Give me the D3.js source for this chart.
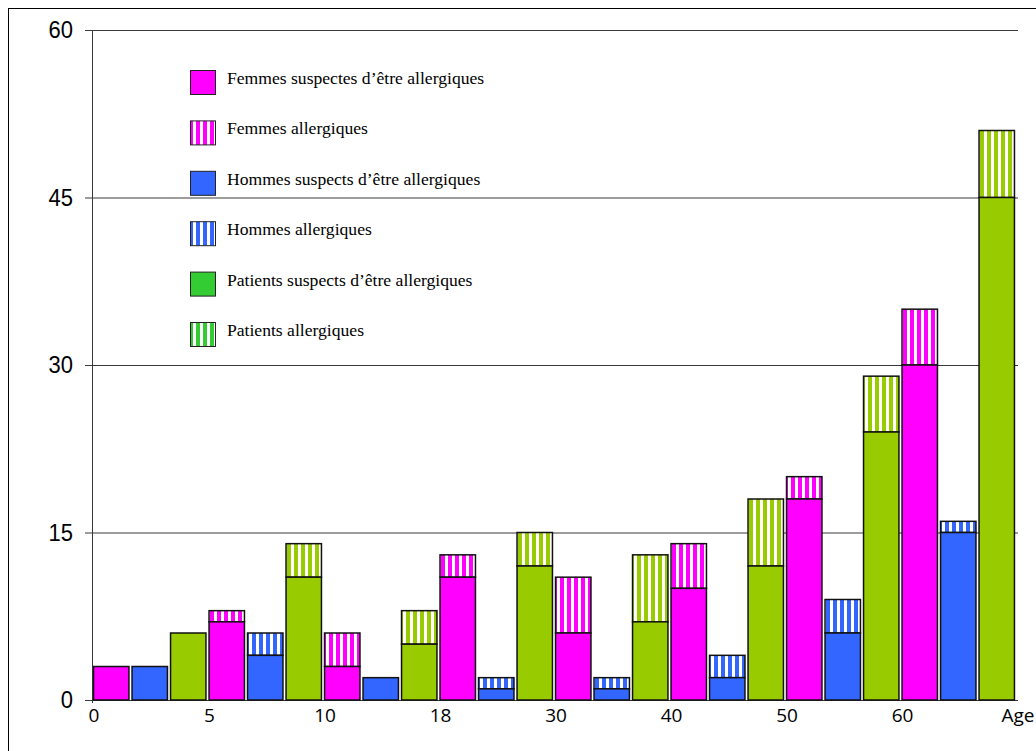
<!DOCTYPE html>
<html>
<head>
<meta charset="utf-8">
<script src="https://cdn.jsdelivr.net/npm/d3@7"></script>
<style>
  html, body { margin: 0; padding: 0; background: #fff; }
  svg { display: block; }
</style>
</head>
<body>
<svg id="chart" width="1036" height="751"></svg>
<script>
// ---- data ----
const ageGroups = ["0-5", "5-10", "10-18", "18-30", "30-40", "40-50", "50-60", "60+"];
const xTickLabels = ["0", "5", "10", "18", "30", "40", "50", "60", "Age"];
const yTicks = [0, 15, 30, 45, 60];
const seriesKeys = ["femmes", "hommes", "patients"];

const femmesSuspectes   = [3, 7, 3, 11, 6, 10, 18, 30];
const femmesAllergiques = [0, 1, 3, 2, 5, 4, 2, 5];
const hommesSuspects    = [3, 4, 2, 1, 1, 2, 6, 15];
const hommesAllergiques = [0, 2, 0, 1, 1, 2, 3, 1];
const patientsSuspects    = [6, 11, 5, 12, 7, 12, 24, 45];
const patientsAllergiques = [0, 3, 3, 3, 6, 6, 5, 6];

const legendLabels = [
  "Femmes suspectes d\u2019être allergiques",
  "Femmes allergiques",
  "Hommes suspects d\u2019être allergiques",
  "Hommes allergiques",
  "Patients suspects d\u2019être allergiques",
  "Patients allergiques"
];

// ---- styles ----
const barColors = { femmes: "#FF00FF", hommes: "#3366FF", patients: "#99CC00" };
const legendColors = ["#FF00FF", "#FF00FF", "#3366FF", "#3366FF", "#33CC33", "#33CC33"];
const legendStriped = [false, true, false, true, false, true];

const svg = d3.select("#chart");

// patterns
const defs = svg.append("defs");
function stripePattern(id, color) {
  const p = defs.append("pattern")
    .attr("id", id)
    .attr("patternUnits", "userSpaceOnUse")
    .attr("width", 7).attr("height", 10);
  p.append("rect").attr("width", 7).attr("height", 10).attr("fill", "#fff");
  p.append("rect").attr("x", 0).attr("width", 4).attr("height", 10).attr("fill", color);
}
stripePattern("st-femmes", barColors.femmes);
stripePattern("st-hommes", barColors.hommes);
stripePattern("st-patients", barColors.patients);
stripePattern("st-leg-f", "#FF00FF");
stripePattern("st-leg-h", "#3366FF");
stripePattern("st-leg-p", "#33CC33");
const legendPatternIds = [null, "st-leg-f", null, "st-leg-h", null, "st-leg-p"];

// outer frame
svg.append("rect")
  .attr("x", 8.5).attr("y", 8.5)
  .attr("width", 1200).attr("height", 900)
  .attr("fill", "none").attr("stroke", "#000").attr("stroke-width", 1);

// scales
const x0 = 92, x1 = 1016, yTop = 30, yBot = 700;
const y = d3.scaleLinear().domain([0, 60]).range([yBot, yTop]);
const gx = d3.scaleBand().domain(ageGroups).range([x0, x1]).paddingInner(0).paddingOuter(0);
const sx = d3.scaleBand().domain(seriesKeys).range([0, gx.bandwidth()])
  .paddingInner(0.08).paddingOuter(0.04);

// gridlines + y labels via axis
const gridRight = 1018;
const tickLen = gridRight - 85;
const yAxis = d3.axisLeft(y).tickValues(yTicks).tickSize(tickLen).tickPadding(12);
const ya = svg.append("g").attr("transform", `translate(${gridRight},0)`).call(yAxis);
ya.select(".domain").remove();
ya.selectAll(".tick line").attr("stroke", "#3a3a3a").attr("stroke-width", 1);
ya.selectAll(".tick text")
  .attr("font-family", "Liberation Sans, Arial, sans-serif")
  .attr("font-size", 22)
  .attr("transform", "scale(1,1.1)")
  .attr("fill", "#000");

// y axis line
svg.append("line")
  .attr("x1", x0 + 0.5).attr("x2", x0 + 0.5)
  .attr("y1", y(60)).attr("y2", yBot + 3)
  .attr("stroke", "#3a3a3a").attr("stroke-width", 1);

// bars
const rows = [];
ageGroups.forEach((g, i) => {
  rows.push({ g, key: "femmes", s: femmesSuspectes[i], a: femmesAllergiques[i] });
  rows.push({ g, key: "hommes", s: hommesSuspects[i], a: hommesAllergiques[i] });
  rows.push({ g, key: "patients", s: patientsSuspects[i], a: patientsAllergiques[i] });
});

const bars = svg.append("g");
bars.selectAll("rect.allerg")
  .data(rows.filter(d => d.a > 0))
  .join("rect")
  .attr("class", "allerg")
  .attr("x", d => gx(d.g) + sx(d.key))
  .attr("width", sx.bandwidth())
  .attr("y", d => y(d.s + d.a))
  .attr("height", d => y(d.s) - y(d.s + d.a))
  .attr("fill", d => `url(#st-${d.key})`)
  .attr("stroke", "#111").attr("stroke-width", 1.5);

bars.selectAll("rect.susp")
  .data(rows)
  .join("rect")
  .attr("class", "susp")
  .attr("x", d => gx(d.g) + sx(d.key))
  .attr("width", sx.bandwidth())
  .attr("y", d => y(d.s))
  .attr("height", d => y(0) - y(d.s))
  .attr("fill", d => barColors[d.key])
  .attr("stroke", "#111").attr("stroke-width", 1.5);

// x tick labels at group boundaries
const boundaries = ageGroups.map(g => gx(g)).concat([gx.range()[1]]);
svg.append("g").selectAll("text")
  .data(xTickLabels)
  .join("text")
  .attr("x", (d, i) => boundaries[i] + 2)
  .attr("y", 722)
  .attr("text-anchor", "middle")
  .attr("font-family", "Open Sans, Lato, sans-serif")
  .attr("font-size", 19)
  .attr("fill", "#000")
  .text(d => d);

// legend
const leg = svg.append("g");
const legTop = 70, legStep = 50.4;
legendLabels.forEach((lab, i) => {
  const ty = legTop + i * legStep;
  leg.append("rect")
    .attr("x", 190.5).attr("y", ty + 0.5)
    .attr("width", 25).attr("height", 24)
    .attr("fill", legendStriped[i] ? `url(#${legendPatternIds[i]})` : legendColors[i])
    .attr("stroke", "#222").attr("stroke-width", 1);
  leg.append("text")
    .attr("x", 227)
    .attr("y", ty + 14)
    .attr("font-family", "Liberation Serif, Times New Roman, serif")
    .attr("font-size", 17.6)
    .attr("fill", "#000")
    .text(lab);
});
</script>
</body>
</html>
